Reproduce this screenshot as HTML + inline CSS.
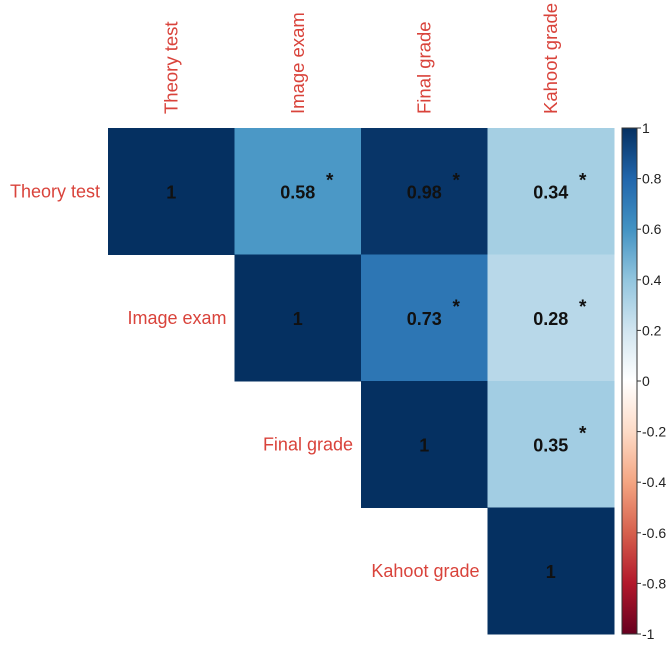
<!DOCTYPE html>
<html><head><meta charset="utf-8"><style>
body{margin:0;background:#fff;}
svg text{font-family:"Liberation Sans",Arial,sans-serif;}
</style></head><body>
<svg id="chart" width="669" height="654" xmlns="http://www.w3.org/2000/svg"></svg>
<script>
const variables = ["Theory test","Image exam","Final grade","Kahoot grade"];
const corrRow0 = [1, 0.58, 0.98, 0.34];
const corrRow1 = [null, 1, 0.73, 0.28];
const corrRow2 = [null, null, 1, 0.35];
const corrRow3 = [null, null, null, 1];
const sigRow0 = [false, true, true, true];
const sigRow1 = [false, false, true, true];
const sigRow2 = [false, false, false, true];
const sigRow3 = [false, false, false, false];
const legendTicks = [1,0.8,0.6,0.4,0.2,0,-0.2,-0.4,-0.6,-0.8,-1];
const paletteStops = ["#67001F","#B2182B","#D6604D","#F4A582","#FDDBC7","#FFFFFF","#D1E5F0","#92C5DE","#4393C3","#2166AC","#053061"];

const corr=[corrRow0,corrRow1,corrRow2,corrRow3];
const sig=[sigRow0,sigRow1,sigRow2,sigRow3];
const NS="http://www.w3.org/2000/svg";
const svg=document.getElementById('chart');
const x0=108,y0=128,cell=126.5;
const xPos=i=>x0+i*cell, yPos=i=>y0+i*cell;
function hex(h){return [1,3,5].map(k=>parseInt(h.substr(k,2),16));}
function color(v){
  const t=(v+1)/2*(paletteStops.length-1);
  const i=Math.min(Math.floor(t),paletteStops.length-2), f=t-i;
  const a=hex(paletteStops[i]), b=hex(paletteStops[i+1]);
  return 'rgb('+a.map((c,k)=>Math.round(c+(b[k]-c)*f)).join(',')+')';
}
function mk(tag,attrs,text){const e=document.createElementNS(NS,tag);for(const k in attrs)e.setAttribute(k,attrs[k]);if(text!==undefined)e.textContent=text;svg.appendChild(e);return e;}
const red="#d9433b";
variables.forEach((v,i)=>{
  const cx=xPos(i)+cell/2;
  const t=mk('text',{x:0,y:0,transform:`translate(${cx+6},114) rotate(-90)`,'font-size':18.5,fill:red},v);
  
  
  const r=mk('text',{x:xPos(i)-8,y:yPos(i)+cell/2+6,'text-anchor':'end','font-size':18,fill:red},v);
  
  
});
for(let i=0;i<4;i++)for(let j=0;j<4;j++){
  const v=corr[i][j]; if(v===null)continue;
  const rc=mk('rect',{x:xPos(j),y:yPos(i),width:cell+0.5,height:cell+0.5,fill:color(v)});
  
  
  const cx=xPos(j)+cell/2, cy=yPos(i)+cell/2;
  const tx=mk('text',{x:cx,y:cy+7,'text-anchor':'middle','font-size':18,'font-weight':'bold',fill:'#111'},String(v));
  
  
  if(sig[i][j]){
    const s=mk('text',{x:cx+32,y:cy-5,'text-anchor':'middle','font-size':19,'font-weight':'bold',fill:'#111'},'*');
    
    
  }
}
// colorbar
const lx=622,lw=15,ly0=128,ly1=634;
const legY=v=>ly0+(1-v)/2*(ly1-ly0);
const defs=mk('defs',{});
const g=document.createElementNS(NS,'linearGradient');
g.setAttribute('id','grad');g.setAttribute('x1','0');g.setAttribute('y1','1');g.setAttribute('x2','0');g.setAttribute('y2','0');
paletteStops.forEach((c,k)=>{const s=document.createElementNS(NS,'stop');s.setAttribute('offset',k/(paletteStops.length-1));s.setAttribute('stop-color',c);g.appendChild(s);});
defs.appendChild(g);
const bar=mk('rect',{x:lx,y:ly0,width:lw,height:ly1-ly0,fill:'url(#grad)',stroke:'#333','stroke-width':1});


legendTicks.forEach(v=>{
  const y=legY(v);
  const tk=mk('line',{x1:lx+lw,x2:lx+lw+4,y1:y,y2:y,stroke:'#333'});
  
  
  const lb=mk('text',{x:lx+lw+5,y:y+5,'font-size':14,fill:'#222'},String(v));
  
  
});
</script>
</body></html>
